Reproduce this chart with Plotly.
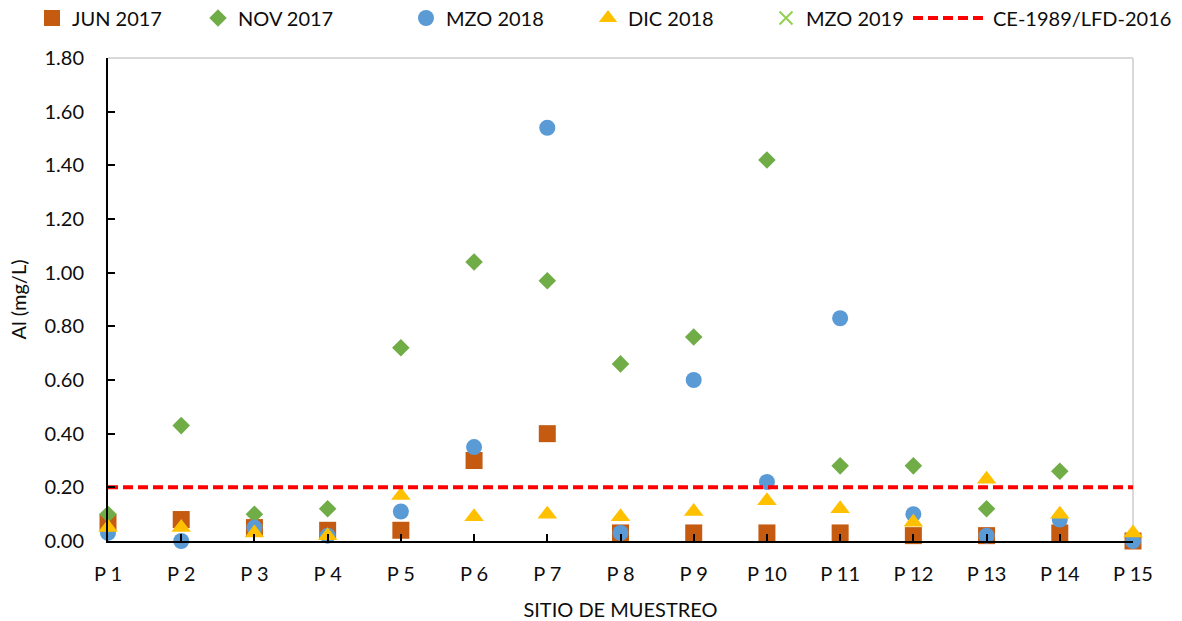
import plotly.graph_objects as go

sites = ["P 1", "P 2", "P 3", "P 4", "P 5", "P 6", "P 7", "P 8", "P 9", "P 10",
         "P 11", "P 12", "P 13", "P 14", "P 15"]

jun_2017 = [0.07, 0.08, 0.05, 0.04, 0.04, 0.30, 0.40, 0.03, 0.03, 0.03,
            0.03, 0.02, 0.02, 0.03, 0.00]
nov_2017 = [0.10, 0.43, 0.10, 0.12, 0.72, 1.04, 0.97, 0.66, 0.76, 1.42,
            0.28, 0.28, 0.12, 0.26, None]
mzo_2018 = [0.03, 0.00, 0.05, 0.02, 0.11, 0.35, 1.54, 0.03, 0.60, 0.22,
            0.83, 0.10, 0.02, 0.08, 0.00]
dic_2018 = [0.05, 0.05, 0.03, 0.02, 0.17, 0.09, 0.10, 0.09, 0.11, 0.15,
            0.12, 0.07, 0.23, 0.10, 0.03]
mzo_2019 = [None] * 15
limit_value = 0.20
limit_line = [limit_value] * len(sites)

y_ticks = [0.0, 0.2, 0.4, 0.6, 0.8, 1.0, 1.2, 1.4, 1.6, 1.8]

FONT = "Lato"
TXT = "#0d0d0d"

fig = go.Figure()

fig.add_trace(go.Scatter(
    x=sites, y=jun_2017, name="JUN 2017", mode="markers", legend="legend",
    marker=dict(symbol="square", size=17, color="#C55A11"), cliponaxis=False))
fig.add_trace(go.Scatter(
    x=sites, y=nov_2017, name="NOV 2017", mode="markers", legend="legend2",
    marker=dict(symbol="diamond", size=13.5, color="#70AD47"), cliponaxis=False))
fig.add_trace(go.Scatter(
    x=sites, y=mzo_2018, name="MZO 2018", mode="markers", legend="legend3",
    marker=dict(symbol="circle", size=16, color="#5B9BD5"), cliponaxis=False))
fig.add_trace(go.Scatter(
    x=sites, y=dic_2018, name="DIC 2018", mode="markers", legend="legend4",
    marker=dict(symbol="triangle-up", size=17, color="#FFC000"), cliponaxis=False))
fig.add_trace(go.Scatter(
    x=sites, y=mzo_2019, name="MZO 2019", mode="markers", legend="legend5",
    marker=dict(symbol="x-thin-open", size=13, color="#92D050",
                line=dict(width=2, color="#92D050")), cliponaxis=False))
fig.add_trace(go.Scatter(
    x=sites, y=limit_line, name="CE-1989/LFD-2016", mode="lines", legend="legend6",
    line=dict(color="#FF0000", width=4, dash="10px,5px"), cliponaxis=False))

L, R, T, B = 108, 49, 58, 80
W, H = 1182, 621
pw = W - L - R
ph = H - T - B

def lx(px):
    return (px - L) / pw

ly = 1 + (T - 18) / ph

leg_common = dict(orientation="h", yanchor="middle", y=ly, xanchor="left",
                  bgcolor="rgba(0,0,0,0)", borderwidth=0,
                  font=dict(family=FONT, size=20, color=TXT))
text_starts = [72, 238, 446, 628, 806]
layout_legends = {}
names = ["legend", "legend2", "legend3", "legend4", "legend5"]
for nm, ts in zip(names, text_starts):
    layout_legends[nm] = dict(leg_common, x=lx(ts - 40))
layout_legends["legend6"] = dict(leg_common, x=lx(993 - 85), itemwidth=75)

fig.update_layout(
    width=W, height=H,
    margin=dict(l=L, r=R, t=T, b=B, autoexpand=False),
    paper_bgcolor="white", plot_bgcolor="white",
    font=dict(family=FONT, size=20, color=TXT),
    showlegend=True,
    **layout_legends,
    xaxis=dict(
        type="category", range=[0, len(sites) - 1],
        showgrid=False, zeroline=False,
        showline=True, linecolor="black", linewidth=2,
        ticks="inside", ticklen=7, tickwidth=1.5, tickcolor="black",
        ticklabelstandoff=14,
        tickfont=dict(family=FONT, size=20, color=TXT),
        title=dict(text="SITIO DE MUESTREO", standoff=19,
                   font=dict(family=FONT, size=20, color=TXT)),
    ),
    yaxis=dict(
        range=[0, 1.8], tickvals=y_ticks, tickformat=".2f",
        showgrid=False, zeroline=False,
        showline=True, linecolor="black", linewidth=2,
        ticks="inside", ticklen=7, tickwidth=1.5, tickcolor="black",
        ticklabelstandoff=18,
        tickfont=dict(family=FONT, size=20, color=TXT),
        title=dict(text="Al (mg/L)", standoff=12,
                   font=dict(family=FONT, size=20, color=TXT)),
    ),
    shapes=[
        dict(type="line", xref="paper", yref="paper", x0=0, x1=1, y0=1, y1=1,
             line=dict(color="#d9d9d9", width=2), layer="below"),
        dict(type="line", xref="paper", yref="paper", x0=1, x1=1, y0=0, y1=1,
             line=dict(color="#d9d9d9", width=2), layer="below"),
    ],
)

fig.write_html("out.html", config={"displayModeBar": False},
               post_script="document.body.style.margin='0px';")
